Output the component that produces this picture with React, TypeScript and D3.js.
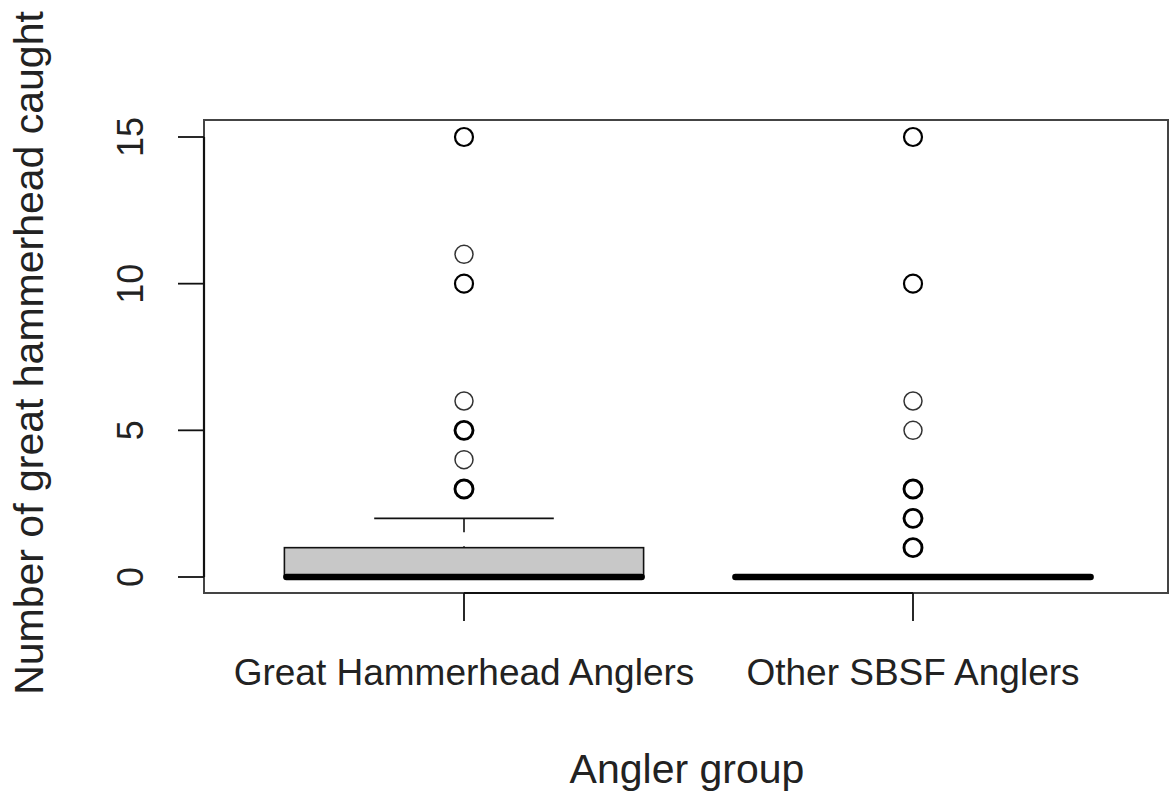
import { useRef, useEffect } from "react";
import * as d3 from "d3";

// box statistics per angler group
const groups = ["Great Hammerhead Anglers", "Other SBSF Anglers"];
const lowerWhisker = [0, 0];
const q1 = [0, 0];
const median = [0, 0];
const q3 = [1, 0];
const upperWhisker = [2, 0];

// outliers (repeated values are drawn on top of each other)
const outliersHammerhead = [3, 3, 3, 4, 5, 5, 5, 6, 10, 10, 11, 15, 15];
const outliersOther = [1, 1, 1, 2, 2, 2, 3, 3, 3, 5, 6, 10, 10, 15, 15];

const yTicks = [0, 5, 10, 15];

const App = () => {
  const svgRef = useRef<SVGSVGElement>(null);

  useEffect(() => {
    const svg = d3.select(svgRef.current);
    svg.selectAll("*").remove();

    const width = 1170;
    const height = 795;
    const frame = { left: 204, right: 1168, top: 120, bottom: 593 };
    const font = "'Liberation Sans', Arial, Helvetica, sans-serif";
    const ink = "#111";

    svg.attr("width", width).attr("height", height);

    const xScale = d3.scaleLinear().domain([1, 2]).range([464, 913]);
    const yScale = d3.scaleLinear().domain([0, 15]).range([577, 137]);
    const unit = xScale(2) - xScale(1);
    const boxW = 0.8 * unit;

    // frame
    svg
      .append("rect")
      .attr("x", frame.left)
      .attr("y", frame.top)
      .attr("width", frame.right - frame.left)
      .attr("height", frame.bottom - frame.top)
      .attr("fill", "none")
      .attr("stroke", "#444")
      .attr("stroke-width", 2);

    const boxes = groups.map((g, i) => ({
      name: g,
      x: i + 1,
      lo: lowerWhisker[i],
      q1: q1[i],
      med: median[i],
      q3: q3[i],
      hi: upperWhisker[i],
      out: i === 0 ? outliersHammerhead : outliersOther,
    }));

    const chart = svg.append("g");

    boxes.forEach((b) => {
      const cx = xScale(b.x);
      const g = chart.append("g");

      // whiskers (dashed)
      if (b.hi > b.q3) {
        g.append("line")
          .attr("x1", cx)
          .attr("x2", cx)
          .attr("y1", yScale(b.hi))
          .attr("y2", yScale(b.q3))
          .attr("stroke", ink)
          .attr("stroke-width", 1.6)
          .attr("stroke-dasharray", "14 14");
      }
      if (b.lo < b.q1) {
        g.append("line")
          .attr("x1", cx)
          .attr("x2", cx)
          .attr("y1", yScale(b.lo))
          .attr("y2", yScale(b.q1))
          .attr("stroke", ink)
          .attr("stroke-width", 1.6)
          .attr("stroke-dasharray", "14 14");
      }
      // caps
      [b.lo, b.hi].forEach((v) => {
        g.append("line")
          .attr("x1", cx - boxW / 4)
          .attr("x2", cx + boxW / 4)
          .attr("y1", yScale(v))
          .attr("y2", yScale(v))
          .attr("stroke", ink)
          .attr("stroke-width", 1.6);
      });

      // box
      g.append("rect")
        .attr("x", cx - boxW / 2)
        .attr("y", yScale(b.q3))
        .attr("width", boxW)
        .attr("height", yScale(b.q1) - yScale(b.q3))
        .attr("fill", "#c8c8c8")
        .attr("stroke", ink)
        .attr("stroke-width", 1.6);

      // median
      g.append("line")
        .attr("x1", cx - boxW / 2 + 2)
        .attr("x2", cx + boxW / 2 - 2)
        .attr("y1", yScale(b.med))
        .attr("y2", yScale(b.med))
        .attr("stroke", "#000")
        .attr("stroke-width", 6.5)
        .attr("stroke-linecap", "round");

      // outliers: overplotted repeats look heavier
      const counts = d3.rollup(b.out, (v) => v.length, (d) => d);
      g.selectAll(".outlier")
        .data(Array.from(counts, ([value, n]) => ({ value, n })))
        .join("circle")
        .attr("class", "outlier")
        .attr("cx", cx)
        .attr("cy", (d) => yScale(d.value))
        .attr("r", 9)
        .attr("fill", "none")
        .attr("stroke", (d) => (d.n > 1 ? "#000" : "#333"))
        .attr("stroke-width", (d) => Math.min(1.5 + 0.7 * (d.n - 1), 3));
    });

    // y axis
    const yAxis = svg.append("g");
    yAxis
      .append("line")
      .attr("x1", frame.left)
      .attr("x2", frame.left)
      .attr("y1", yScale(0))
      .attr("y2", yScale(15))
      .attr("stroke", ink)
      .attr("stroke-width", 2.2);
    yTicks.forEach((t) => {
      yAxis
        .append("line")
        .attr("x1", frame.left - 26)
        .attr("x2", frame.left)
        .attr("y1", yScale(t))
        .attr("y2", yScale(t))
        .attr("stroke", ink)
        .attr("stroke-width", 1.8);
      yAxis
        .append("text")
        .attr("transform", `translate(143, ${yScale(t)}) rotate(-90)`)
        .attr("text-anchor", "middle")
        .attr("font-family", font)
        .attr("font-size", 36)
        .attr("fill", "#222")
        .text(t);
    });

    // x axis
    const xAxis = svg.append("g");
    xAxis
      .append("line")
      .attr("x1", xScale(1))
      .attr("x2", xScale(2))
      .attr("y1", frame.bottom)
      .attr("y2", frame.bottom)
      .attr("stroke", ink)
      .attr("stroke-width", 2.2);
    groups.forEach((g, i) => {
      xAxis
        .append("line")
        .attr("x1", xScale(i + 1))
        .attr("x2", xScale(i + 1))
        .attr("y1", frame.bottom)
        .attr("y2", frame.bottom + 28)
        .attr("stroke", ink)
        .attr("stroke-width", 1.8);
      xAxis
        .append("text")
        .attr("x", xScale(i + 1))
        .attr("y", 685)
        .attr("text-anchor", "middle")
        .attr("font-family", font)
        .attr("font-size", 37)
        .attr("fill", "#222")
        .text(g);
    });

    // axis titles
    svg
      .append("text")
      .attr("x", 687)
      .attr("y", 783)
      .attr("text-anchor", "middle")
      .attr("font-family", font)
      .attr("font-size", 41)
      .attr("fill", "#222")
      .text("Angler group");

    svg
      .append("text")
      .attr("transform", `translate(43, 353) rotate(-90)`)
      .attr("text-anchor", "middle")
      .attr("font-family", font)
      .attr("font-size", 41)
      .attr("fill", "#222")
      .text("Number of great hammerhead caught");
  }, []);

  return (
    <svg
      ref={svgRef}
      style={{ position: "absolute", top: 0, left: 0, background: "#fff" }}
    ></svg>
  );
};

export default App;
